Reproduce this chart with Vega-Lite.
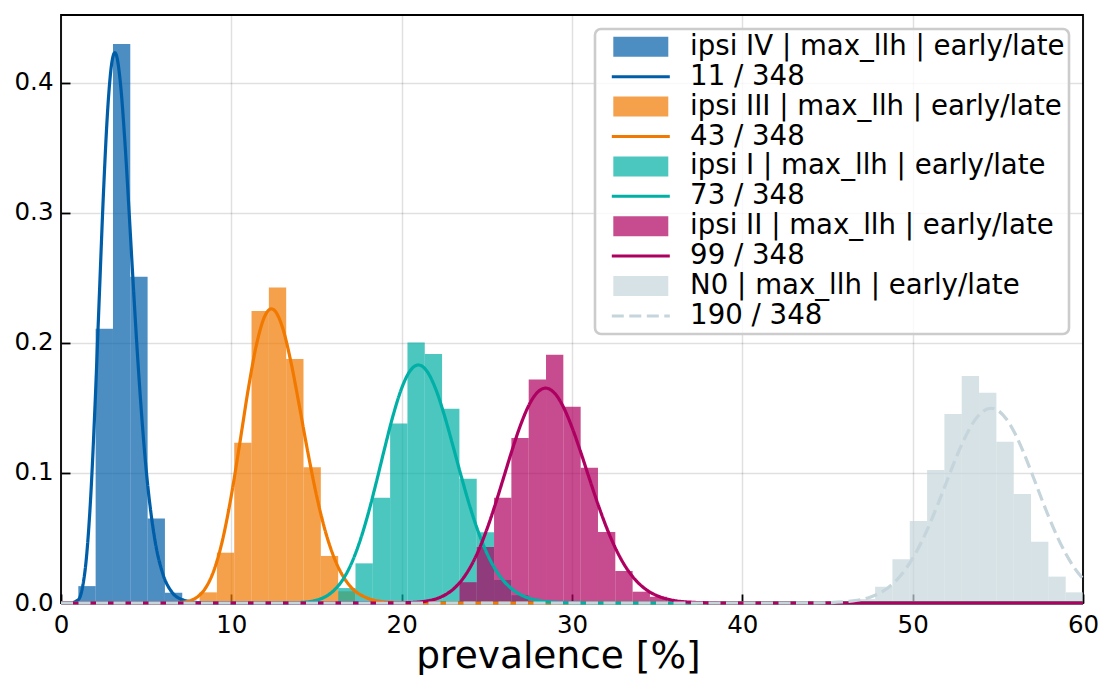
{
  "$schema": "https://vega.github.io/schema/vega-lite/v6.json",
  "width": 1022,
  "height": 588,
  "autosize": {"type": "none"},
  "padding": {"left": 61, "top": 15, "right": 18, "bottom": 72},
  "background": "white",
  "config": {
    "font": "DejaVu Sans",
    "view": {"stroke": "black", "strokeWidth": 1.8},
    "axis": {
      "grid": true,
      "gridColor": "black",
      "gridOpacity": 0.12,
      "gridWidth": 1.5,
      "domain": false,
      "tickColor": "black",
      "tickSize": -9,
      "tickWidth": 1.8,
      "labelFont": "DejaVu Sans",
      "labelFontSize": 24.5,
      "labelColor": "black",
      "labelFlush": false,
      "labelOverlap": false,
      "titleFont": "DejaVu Sans",
      "titleFontWeight": "normal",
      "titleColor": "black",
      "zindex": 1
    }
  },
  "datasets": {
    "hist": [
      {"label": "ipsi IV | max_llh | early/late", "x0": 1.0169, "x1": 2.0339, "density": 0.013},
      {"label": "ipsi IV | max_llh | early/late", "x0": 2.0339, "x1": 3.0508, "density": 0.211},
      {"label": "ipsi IV | max_llh | early/late", "x0": 3.0508, "x1": 4.0678, "density": 0.43},
      {"label": "ipsi IV | max_llh | early/late", "x0": 4.0678, "x1": 5.0847, "density": 0.251},
      {"label": "ipsi IV | max_llh | early/late", "x0": 5.0847, "x1": 6.1017, "density": 0.065},
      {"label": "ipsi IV | max_llh | early/late", "x0": 6.1017, "x1": 7.1186, "density": 0.0079},
      {"label": "ipsi III | max_llh | early/late", "x0": 8.1356, "x1": 9.1525, "density": 0.0082},
      {"label": "ipsi III | max_llh | early/late", "x0": 9.1525, "x1": 10.1695, "density": 0.0387},
      {"label": "ipsi III | max_llh | early/late", "x0": 10.1695, "x1": 11.1864, "density": 0.1233},
      {"label": "ipsi III | max_llh | early/late", "x0": 11.1864, "x1": 12.2034, "density": 0.2246},
      {"label": "ipsi III | max_llh | early/late", "x0": 12.2034, "x1": 13.2203, "density": 0.2426},
      {"label": "ipsi III | max_llh | early/late", "x0": 13.2203, "x1": 14.2373, "density": 0.1877},
      {"label": "ipsi III | max_llh | early/late", "x0": 14.2373, "x1": 15.2542, "density": 0.1044},
      {"label": "ipsi III | max_llh | early/late", "x0": 15.2542, "x1": 16.2712, "density": 0.0362},
      {"label": "ipsi III | max_llh | early/late", "x0": 16.2712, "x1": 17.2881, "density": 0.009},
      {"label": "ipsi I | max_llh | early/late", "x0": 16.2712, "x1": 17.2881, "density": 0.0115},
      {"label": "ipsi I | max_llh | early/late", "x0": 17.2881, "x1": 18.3051, "density": 0.0305},
      {"label": "ipsi I | max_llh | early/late", "x0": 18.3051, "x1": 19.322, "density": 0.081},
      {"label": "ipsi I | max_llh | early/late", "x0": 19.322, "x1": 20.339, "density": 0.138},
      {"label": "ipsi I | max_llh | early/late", "x0": 20.339, "x1": 21.3559, "density": 0.2003},
      {"label": "ipsi I | max_llh | early/late", "x0": 21.3559, "x1": 22.3729, "density": 0.1915},
      {"label": "ipsi I | max_llh | early/late", "x0": 22.3729, "x1": 23.3898, "density": 0.1495},
      {"label": "ipsi I | max_llh | early/late", "x0": 23.3898, "x1": 24.4068, "density": 0.0955},
      {"label": "ipsi I | max_llh | early/late", "x0": 24.4068, "x1": 25.4237, "density": 0.0545},
      {"label": "ipsi I | max_llh | early/late", "x0": 25.4237, "x1": 26.4407, "density": 0.0177},
      {"label": "ipsi I | max_llh | early/late", "x0": 26.4407, "x1": 27.4576, "density": 0.006},
      {"label": "ipsi II | max_llh | early/late", "x0": 23.3898, "x1": 24.4068, "density": 0.016},
      {"label": "ipsi II | max_llh | early/late", "x0": 24.4068, "x1": 25.4237, "density": 0.043},
      {"label": "ipsi II | max_llh | early/late", "x0": 25.4237, "x1": 26.4407, "density": 0.081},
      {"label": "ipsi II | max_llh | early/late", "x0": 26.4407, "x1": 27.4576, "density": 0.127},
      {"label": "ipsi II | max_llh | early/late", "x0": 27.4576, "x1": 28.4746, "density": 0.172},
      {"label": "ipsi II | max_llh | early/late", "x0": 28.4746, "x1": 29.4915, "density": 0.191},
      {"label": "ipsi II | max_llh | early/late", "x0": 29.4915, "x1": 30.5085, "density": 0.151},
      {"label": "ipsi II | max_llh | early/late", "x0": 30.5085, "x1": 31.5254, "density": 0.104},
      {"label": "ipsi II | max_llh | early/late", "x0": 31.5254, "x1": 32.5424, "density": 0.0546},
      {"label": "ipsi II | max_llh | early/late", "x0": 32.5424, "x1": 33.5593, "density": 0.0246},
      {"label": "ipsi II | max_llh | early/late", "x0": 33.5593, "x1": 34.5763, "density": 0.0087},
      {"label": "ipsi II | max_llh | early/late", "x0": 34.5763, "x1": 35.5932, "density": 0.0049},
      {"label": "N0 | max_llh | early/late", "x0": 46.7797, "x1": 47.7966, "density": 0.003},
      {"label": "N0 | max_llh | early/late", "x0": 47.7966, "x1": 48.8136, "density": 0.0125},
      {"label": "N0 | max_llh | early/late", "x0": 48.8136, "x1": 49.8305, "density": 0.0336},
      {"label": "N0 | max_llh | early/late", "x0": 49.8305, "x1": 50.8475, "density": 0.0631},
      {"label": "N0 | max_llh | early/late", "x0": 50.8475, "x1": 51.8644, "density": 0.1023},
      {"label": "N0 | max_llh | early/late", "x0": 51.8644, "x1": 52.8814, "density": 0.1454},
      {"label": "N0 | max_llh | early/late", "x0": 52.8814, "x1": 53.8983, "density": 0.1746},
      {"label": "N0 | max_llh | early/late", "x0": 53.8983, "x1": 54.9153, "density": 0.1618},
      {"label": "N0 | max_llh | early/late", "x0": 54.9153, "x1": 55.9322, "density": 0.1241},
      {"label": "N0 | max_llh | early/late", "x0": 55.9322, "x1": 56.9492, "density": 0.0838},
      {"label": "N0 | max_llh | early/late", "x0": 56.9492, "x1": 57.9661, "density": 0.0472},
      {"label": "N0 | max_llh | early/late", "x0": 57.9661, "x1": 58.9831, "density": 0.0203},
      {"label": "N0 | max_llh | early/late", "x0": 58.9831, "x1": 60, "density": 0.0082}
    ],
    "curves": [
      {"label": "11 / 348", "x": 0, "density": 0},
      {"label": "11 / 348", "x": 0.5, "density": 0},
      {"label": "11 / 348", "x": 1, "density": 0.0023},
      {"label": "11 / 348", "x": 1.25, "density": 0.0113},
      {"label": "11 / 348", "x": 1.5, "density": 0.0359},
      {"label": "11 / 348", "x": 1.75, "density": 0.083},
      {"label": "11 / 348", "x": 2, "density": 0.1529},
      {"label": "11 / 348", "x": 2.25, "density": 0.2361},
      {"label": "11 / 348", "x": 2.5, "density": 0.3174},
      {"label": "11 / 348", "x": 2.75, "density": 0.3813},
      {"label": "11 / 348", "x": 3, "density": 0.417},
      {"label": "11 / 348", "x": 3.161, "density": 0.4233},
      {"label": "11 / 348", "x": 3.25, "density": 0.4215},
      {"label": "11 / 348", "x": 3.5, "density": 0.3983},
      {"label": "11 / 348", "x": 3.75, "density": 0.355},
      {"label": "11 / 348", "x": 4, "density": 0.3005},
      {"label": "11 / 348", "x": 4.25, "density": 0.2431},
      {"label": "11 / 348", "x": 4.5, "density": 0.1889},
      {"label": "11 / 348", "x": 5, "density": 0.1026},
      {"label": "11 / 348", "x": 5.5, "density": 0.0495},
      {"label": "11 / 348", "x": 6, "density": 0.0216},
      {"label": "11 / 348", "x": 6.5, "density": 0.0086},
      {"label": "11 / 348", "x": 7, "density": 0.0032},
      {"label": "11 / 348", "x": 8, "density": 0.0004},
      {"label": "11 / 348", "x": 9, "density": 0},
      {"label": "11 / 348", "x": 60, "density": 0},
      {"label": "43 / 348", "x": 0, "density": 0},
      {"label": "43 / 348", "x": 6, "density": 0},
      {"label": "43 / 348", "x": 7, "density": 0.0004},
      {"label": "43 / 348", "x": 7.5, "density": 0.0015},
      {"label": "43 / 348", "x": 8, "density": 0.0046},
      {"label": "43 / 348", "x": 8.5, "density": 0.0118},
      {"label": "43 / 348", "x": 9, "density": 0.0259},
      {"label": "43 / 348", "x": 9.5, "density": 0.0494},
      {"label": "43 / 348", "x": 10, "density": 0.0827},
      {"label": "43 / 348", "x": 10.5, "density": 0.1232},
      {"label": "43 / 348", "x": 11, "density": 0.165},
      {"label": "43 / 348", "x": 11.5, "density": 0.2001},
      {"label": "43 / 348", "x": 12, "density": 0.2216},
      {"label": "43 / 348", "x": 12.356, "density": 0.2263},
      {"label": "43 / 348", "x": 12.5, "density": 0.2255},
      {"label": "43 / 348", "x": 13, "density": 0.2121},
      {"label": "43 / 348", "x": 13.5, "density": 0.1853},
      {"label": "43 / 348", "x": 14, "density": 0.1511},
      {"label": "43 / 348", "x": 14.5, "density": 0.1154},
      {"label": "43 / 348", "x": 15, "density": 0.0828},
      {"label": "43 / 348", "x": 15.5, "density": 0.0561},
      {"label": "43 / 348", "x": 16, "density": 0.036},
      {"label": "43 / 348", "x": 16.5, "density": 0.0219},
      {"label": "43 / 348", "x": 17, "density": 0.0126},
      {"label": "43 / 348", "x": 18, "density": 0.0037},
      {"label": "43 / 348", "x": 19, "density": 0.0009},
      {"label": "43 / 348", "x": 20, "density": 0.0002},
      {"label": "43 / 348", "x": 21, "density": 0},
      {"label": "43 / 348", "x": 60, "density": 0},
      {"label": "73 / 348", "x": 0, "density": 0},
      {"label": "73 / 348", "x": 12, "density": 0},
      {"label": "73 / 348", "x": 13, "density": 0.00004},
      {"label": "73 / 348", "x": 14, "density": 0.00035},
      {"label": "73 / 348", "x": 14.5, "density": 0.0009},
      {"label": "73 / 348", "x": 15, "density": 0.0022},
      {"label": "73 / 348", "x": 15.5, "density": 0.0047},
      {"label": "73 / 348", "x": 16, "density": 0.0094},
      {"label": "73 / 348", "x": 16.5, "density": 0.0171},
      {"label": "73 / 348", "x": 17, "density": 0.029},
      {"label": "73 / 348", "x": 17.5, "density": 0.0457},
      {"label": "73 / 348", "x": 18, "density": 0.0671},
      {"label": "73 / 348", "x": 18.5, "density": 0.0923},
      {"label": "73 / 348", "x": 19, "density": 0.119},
      {"label": "73 / 348", "x": 19.5, "density": 0.1444},
      {"label": "73 / 348", "x": 20, "density": 0.1652},
      {"label": "73 / 348", "x": 20.5, "density": 0.1787},
      {"label": "73 / 348", "x": 20.977, "density": 0.1831},
      {"label": "73 / 348", "x": 21.5, "density": 0.178},
      {"label": "73 / 348", "x": 22, "density": 0.1645},
      {"label": "73 / 348", "x": 22.5, "density": 0.1447},
      {"label": "73 / 348", "x": 23, "density": 0.1214},
      {"label": "73 / 348", "x": 23.5, "density": 0.0973},
      {"label": "73 / 348", "x": 24, "density": 0.0745},
      {"label": "73 / 348", "x": 24.5, "density": 0.0547},
      {"label": "73 / 348", "x": 25, "density": 0.0384},
      {"label": "73 / 348", "x": 25.5, "density": 0.0259},
      {"label": "73 / 348", "x": 26, "density": 0.0168},
      {"label": "73 / 348", "x": 26.5, "density": 0.0105},
      {"label": "73 / 348", "x": 27, "density": 0.0063},
      {"label": "73 / 348", "x": 28, "density": 0.002},
      {"label": "73 / 348", "x": 29, "density": 0.00055},
      {"label": "73 / 348", "x": 30, "density": 0.00013},
      {"label": "73 / 348", "x": 31, "density": 0},
      {"label": "73 / 348", "x": 60, "density": 0},
      {"label": "99 / 348", "x": 0, "density": 0},
      {"label": "99 / 348", "x": 18, "density": 0},
      {"label": "99 / 348", "x": 19, "density": 0.00002},
      {"label": "99 / 348", "x": 20, "density": 0.00014},
      {"label": "99 / 348", "x": 21, "density": 0.00075},
      {"label": "99 / 348", "x": 21.5, "density": 0.0016},
      {"label": "99 / 348", "x": 22, "density": 0.0031},
      {"label": "99 / 348", "x": 22.5, "density": 0.0059},
      {"label": "99 / 348", "x": 23, "density": 0.0103},
      {"label": "99 / 348", "x": 23.5, "density": 0.0171},
      {"label": "99 / 348", "x": 24, "density": 0.0269},
      {"label": "99 / 348", "x": 24.5, "density": 0.04},
      {"label": "99 / 348", "x": 25, "density": 0.0566},
      {"label": "99 / 348", "x": 25.5, "density": 0.076},
      {"label": "99 / 348", "x": 26, "density": 0.0971},
      {"label": "99 / 348", "x": 26.5, "density": 0.1183},
      {"label": "99 / 348", "x": 27, "density": 0.1376},
      {"label": "99 / 348", "x": 27.5, "density": 0.1529},
      {"label": "99 / 348", "x": 28, "density": 0.1624},
      {"label": "99 / 348", "x": 28.448, "density": 0.1653},
      {"label": "99 / 348", "x": 29, "density": 0.1611},
      {"label": "99 / 348", "x": 29.5, "density": 0.1506},
      {"label": "99 / 348", "x": 30, "density": 0.1351},
      {"label": "99 / 348", "x": 30.5, "density": 0.1165},
      {"label": "99 / 348", "x": 31, "density": 0.0965},
      {"label": "99 / 348", "x": 31.5, "density": 0.0769},
      {"label": "99 / 348", "x": 32, "density": 0.059},
      {"label": "99 / 348", "x": 32.5, "density": 0.0436},
      {"label": "99 / 348", "x": 33, "density": 0.031},
      {"label": "99 / 348", "x": 33.5, "density": 0.0213},
      {"label": "99 / 348", "x": 34, "density": 0.0141},
      {"label": "99 / 348", "x": 34.5, "density": 0.009},
      {"label": "99 / 348", "x": 35, "density": 0.0056},
      {"label": "99 / 348", "x": 36, "density": 0.0019},
      {"label": "99 / 348", "x": 37, "density": 0.0006},
      {"label": "99 / 348", "x": 38, "density": 0.00015},
      {"label": "99 / 348", "x": 39, "density": 0},
      {"label": "99 / 348", "x": 60, "density": 0},
      {"label": "190 / 348", "x": 0, "density": 0},
      {"label": "190 / 348", "x": 42, "density": 0},
      {"label": "190 / 348", "x": 44, "density": 0.00006},
      {"label": "190 / 348", "x": 45, "density": 0.00024},
      {"label": "190 / 348", "x": 46, "density": 0.0009},
      {"label": "190 / 348", "x": 46.5, "density": 0.0016},
      {"label": "190 / 348", "x": 47, "density": 0.0027},
      {"label": "190 / 348", "x": 47.5, "density": 0.0045},
      {"label": "190 / 348", "x": 48, "density": 0.0072},
      {"label": "190 / 348", "x": 48.5, "density": 0.0112},
      {"label": "190 / 348", "x": 49, "density": 0.0169},
      {"label": "190 / 348", "x": 49.5, "density": 0.0245},
      {"label": "190 / 348", "x": 50, "density": 0.0343},
      {"label": "190 / 348", "x": 50.5, "density": 0.0465},
      {"label": "190 / 348", "x": 51, "density": 0.0607},
      {"label": "190 / 348", "x": 51.5, "density": 0.0767},
      {"label": "190 / 348", "x": 52, "density": 0.0935},
      {"label": "190 / 348", "x": 52.5, "density": 0.1102},
      {"label": "190 / 348", "x": 53, "density": 0.1253},
      {"label": "190 / 348", "x": 53.5, "density": 0.1377},
      {"label": "190 / 348", "x": 54, "density": 0.1461},
      {"label": "190 / 348", "x": 54.598, "density": 0.1498},
      {"label": "190 / 348", "x": 55, "density": 0.1481},
      {"label": "190 / 348", "x": 55.5, "density": 0.1415},
      {"label": "190 / 348", "x": 56, "density": 0.1305},
      {"label": "190 / 348", "x": 56.5, "density": 0.1161},
      {"label": "190 / 348", "x": 57, "density": 0.0996},
      {"label": "190 / 348", "x": 57.5, "density": 0.0825},
      {"label": "190 / 348", "x": 58, "density": 0.0659},
      {"label": "190 / 348", "x": 58.5, "density": 0.0507},
      {"label": "190 / 348", "x": 59, "density": 0.0377},
      {"label": "190 / 348", "x": 59.5, "density": 0.0269},
      {"label": "190 / 348", "x": 60, "density": 0.0186}
    ]
  },
  "layer": [
    {
      "data": {"name": "hist"},
      "mark": {"type": "bar", "strokeWidth": 0},
      "encoding": {
        "x": {
          "field": "x0",
          "type": "quantitative",
          "scale": {"domain": [0, 60], "nice": false, "zero": false},
          "axis": {"values": [0, 10, 20, 30, 40, 50, 60], "labelPadding": 19, "titleFontSize": 37.5, "titlePadding": 0.5, "titleX": 497},
          "title": "prevalence [%]"
        },
        "x2": {"field": "x1"},
        "y": {
          "field": "density",
          "type": "quantitative",
          "stack": null,
          "scale": {"domain": [0, 0.4523], "nice": false},
          "axis": {"values": [0, 0.1, 0.2, 0.3, 0.4], "format": ".1f", "labelPadding": 17, "title": null}
        },
        "y2": {"datum": 0},
        "color": {
          "field": "label",
          "type": "nominal",
          "scale": {
            "domain": [
              "ipsi IV | max_llh | early/late", "11 / 348",
              "ipsi III | max_llh | early/late", "43 / 348",
              "ipsi I | max_llh | early/late", "73 / 348",
              "ipsi II | max_llh | early/late", "99 / 348",
              "N0 | max_llh | early/late", "190 / 348"
            ],
            "range": [
              "rgba(0,94,168,0.7)", "#005ea8",
              "rgba(241,121,0,0.7)", "#f17900",
              "rgba(0,175,165,0.7)", "#00afa5",
              "rgba(174,0,96,0.7)", "#ae0060",
              "rgba(197,213,219,0.7)", "#c5d5db"
            ]
          },
          "legend": {
            "title": null,
            "orient": "top-right",
            "offset": 14,
            "padding": 4,
            "fillColor": "rgba(255,255,255,0.8)",
            "strokeColor": "#cccccc",
            "cornerRadius": 6,
            "labelFont": "DejaVu Sans",
            "labelFontSize": 27.6,
            "labelColor": "black",
            "labelLimit": 600,
            "labelOffset": 35.5,
            "symbolOffset": 28,
            "symbolSize": 400,
            "symbolStrokeWidth": 3,
            "rowPadding": 0.9,
            "encode": {
              "legend": {"update": {"strokeWidth": {"value": 2.6}}},
              "symbols": {
                "update": {
                  "shape": {"signal": "indexof(datum.value, '|') >= 0 ? 'M-2.75,-1H2.75V1H-2.75Z' : 'M-2.9,0H2.9'"},
                  "fill": {"signal": "indexof(datum.value, '|') >= 0 ? scale('color', datum.value) : 'transparent'"},
                  "stroke": {"signal": "scale('color', datum.value)"},
                  "strokeOpacity": {"signal": "indexof(datum.value, '|') >= 0 ? 0 : 1"},
                  "strokeDash": {"signal": "datum.value === '190 / 348' ? [12, 5.5] : [1, 0]"},
                  "opacity": {"value": 1}
                }
              }
            }
          }
        }
      }
    },
    {
      "data": {"name": "curves"},
      "mark": {"type": "line", "strokeWidth": 3.2, "interpolate": "monotone"},
      "encoding": {
        "x": {"field": "x", "type": "quantitative"},
        "y": {"field": "density", "type": "quantitative"},
        "color": {"field": "label", "type": "nominal"},
        "strokeDash": {
          "field": "label",
          "type": "nominal",
          "scale": {
            "domain": ["11 / 348", "43 / 348", "73 / 348", "99 / 348", "190 / 348"],
            "range": [[1, 0], [1, 0], [1, 0], [1, 0], [12, 5.5]]
          },
          "legend": null
        }
      }
    }
  ]
}
